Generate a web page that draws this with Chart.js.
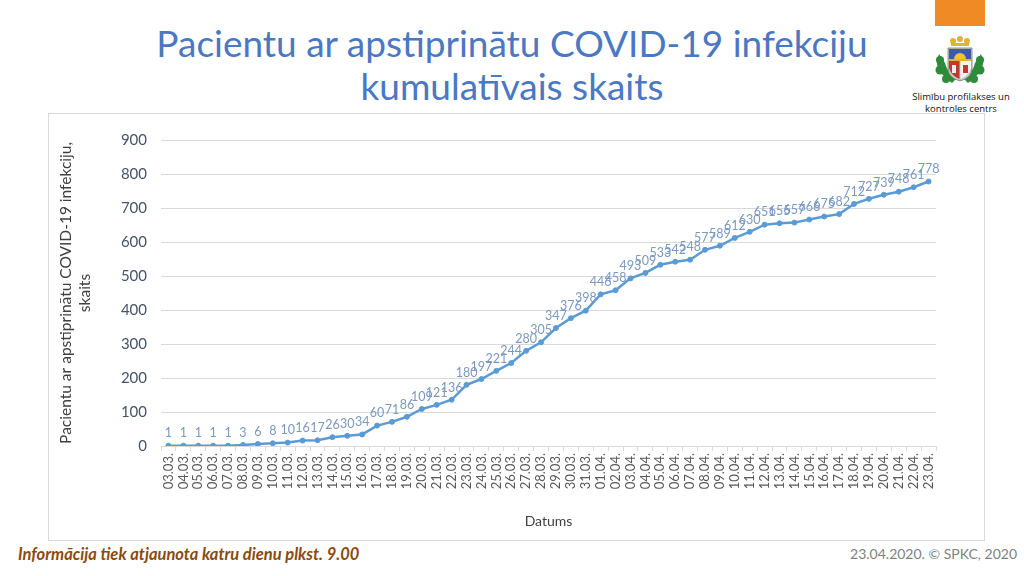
<!DOCTYPE html>
<html>
<head>
<meta charset="utf-8">
<script src="https://cdn.jsdelivr.net/npm/chart.js@4"></script>
<style>
  body { margin: 0; width: 1024px; height: 576px; background: #fff; overflow: hidden; font-family: Lato, "Open Sans", sans-serif; position: relative; }
  .title { position: absolute; left: 0; top: 21px; width: 1024px; text-align: center; color: #4a78c2; font-size: 37px; line-height: 43px; }
  .box { position: absolute; left: 48px; top: 113px; width: 935px; height: 426px; border: 1px solid #d9d9d9; }
  .box canvas { position: absolute; left: 0; top: 0; }
  .orange { position: absolute; left: 935px; top: 0; width: 50px; height: 26px; background: #f08a24; }
  .logo { position: absolute; left: 934px; top: 34px; }
  .org { position: absolute; left: 900px; top: 91px; width: 122px; text-align: center; font-size: 9.5px; line-height: 12px; color: #111; font-family: "Open Sans", sans-serif; }
  .note { position: absolute; left: 18px; top: 544px; font-size: 16.5px; font-weight: bold; font-style: italic; color: #8a4b0f; }
  .copy { position: absolute; right: 7px; top: 545px; font-size: 14px; color: #7f7f7f; }
</style>
</head>
<body>
<div class="title">Pacientu ar apstiprinātu COVID-19 infekciju<br>kumulatīvais skaits</div>
<div class="orange"></div>
<svg class="logo" width="52" height="54" viewBox="0 0 52 54">
  <!-- oak leaves -->
  <path d="M5 20 q-5 10 2 19 q5 6 11 10 l4 -4 q-9 -7 -11 -16 z" fill="#2e8b3a"/>
  <path d="M47 20 q5 10 -2 19 q-5 6 -11 10 l-4 -4 q9 -7 11 -16 z" fill="#2e8b3a"/>
  <circle cx="6" cy="26" r="4" fill="#2e8b3a"/>
  <circle cx="46" cy="26" r="4" fill="#2e8b3a"/>
  <circle cx="6" cy="36" r="4.5" fill="#2e8b3a"/>
  <circle cx="46" cy="36" r="4.5" fill="#2e8b3a"/>
  <circle cx="12" cy="45" r="4" fill="#2e8b3a"/>
  <circle cx="40" cy="45" r="4" fill="#2e8b3a"/>
  <!-- stars -->
  <circle cx="19" cy="7" r="3" fill="#e2b13c"/>
  <circle cx="26" cy="5" r="3" fill="#e2b13c"/>
  <circle cx="33" cy="7" r="3" fill="#e2b13c"/>
  <rect x="17" y="9" width="18" height="3" fill="#e2b13c"/>
  <!-- shield -->
  <path d="M14 14 h24 v20 q0 10 -12 13 q-12 -3 -12 -13 z" fill="#c8c8c8" stroke="#777" stroke-width="0.8"/>
  <path d="M15 15 h22 v10 h-22 z" fill="#3a5ba8"/>
  <circle cx="26" cy="25" r="6" fill="#f2c230"/>
  <rect x="15" y="25" width="22" height="2" fill="#e2b13c"/>
  <path d="M15 27 h10.5 v18 q-8 -3 -10.5 -11 z" fill="#c0392b"/>
  <path d="M26.5 27 h10.5 v7 q-2.5 8 -10.5 11 z" fill="#f4f4f4"/>
  <path d="M18 31 l4 0 l0 8 l-4 0 z" fill="#eee"/>
  <path d="M29 31 l5 0 l0 8 l-5 0 z" fill="#c0392b"/>
</svg>
<div class="org">Slimību profilakses un<br>kontroles centrs</div>
<div class="box"><canvas id="chart" width="935" height="426"></canvas></div>
<div class="note">Informācija tiek atjaunota katru dienu plkst. 9.00</div>
<div class="copy">23.04.2020. © SPKC, 2020</div>

<script>
// dates on the x axis
var dates = [
  "03.03.", "04.03.", "05.03.", "06.03.", "07.03.", "08.03.", "09.03.", "10.03.", "11.03.", "12.03.",
  "13.03.", "14.03.", "15.03.", "16.03.", "17.03.", "18.03.", "19.03.", "20.03.", "21.03.", "22.03.",
  "23.03.", "24.03.", "25.03.", "26.03.", "27.03.", "28.03.", "29.03.", "30.03.", "31.03.",
  "01.04.", "02.04.", "03.04.", "04.04.", "05.04.", "06.04.", "07.04.", "08.04.", "09.04.", "10.04.",
  "11.04.", "12.04.", "13.04.", "14.04.", "15.04.", "16.04.", "17.04.", "18.04.", "19.04.", "20.04.",
  "21.04.", "22.04.", "23.04."
];

// cumulative number of patients
var cases = [
  1, 1, 1, 1, 1, 3, 6, 8, 10, 16,
  17, 26, 30, 34, 60, 71, 86, 109, 121, 136,
  180, 197, 221, 244, 280, 305, 347, 376, 398,
  446, 458, 493, 509, 533, 542, 548, 577, 589, 612,
  630, 651, 655, 657, 666, 675, 682, 712, 727, 739,
  748, 761, 778
];

var yTicks = [0, 100, 200, 300, 400, 500, 600, 700, 800, 900];

// draw the value above each point
var pointLabels = {
  id: "pointLabels",
  afterDatasetsDraw: function (chart) {
    var ctx = chart.ctx;
    var meta = chart.getDatasetMeta(0);
    ctx.save();
    ctx.font = "12.5px Lato, sans-serif";
    ctx.fillStyle = "#7a98c0";
    ctx.textAlign = "center";
    ctx.textBaseline = "bottom";
    meta.data.forEach(function (pt, i) {
      ctx.fillText(chart.data.datasets[0].data[i], pt.x, pt.y - 6);
    });
    ctx.restore();
  }
};

var ctx = document.getElementById("chart").getContext("2d");

new Chart(ctx, {
  type: "line",
  data: {
    labels: dates,
    datasets: [
      {
        label: "Pacienti",
        data: cases,
        borderColor: "#5b9bd5",
        backgroundColor: "#5b9bd5",
        borderWidth: 2.5,
        pointRadius: 2.5,
        pointBorderWidth: 1,
        pointBackgroundColor: "#5b9bd5",
        tension: 0,
      },
    ],
  },
  options: {
    responsive: false,
    animation: false,
    layout: { padding: { left: 8, right: 48, top: 26, bottom: 0 } },
    plugins: {
      legend: { display: false },
      tooltip: { enabled: false },
    },
    scales: {
      x: {
        offset: true,
        grid: { drawOnChartArea: false, offset: true, color: "#d9d9d9", tickLength: 5 },
        border: { color: "#d9d9d9" },
        ticks: {
          autoSkip: false,
          minRotation: 90,
          maxRotation: 90,
          padding: 2,
          color: "#595959",
          font: { family: "Lato", size: 13 },
        },
        title: {
          display: true,
          text: "Datums",
          color: "#404040",
          font: { family: "Lato", size: 14 },
          padding: { top: 4, bottom: 10 },
        },
        afterFit: function (scale) { scale.height = 94; },
      },
      y: {
        min: 0,
        max: 900,
        afterBuildTicks: function (scale) {
          scale.ticks = yTicks.map(function (v) { return { value: v }; });
        },
        grid: { color: "#d9d9d9", drawTicks: false },
        border: { display: false },
        ticks: {
          padding: 14,
          color: "#44546a",
          font: { family: "Lato", size: 15 },
        },
        title: {
          display: true,
          text: ["Pacientu ar apstiprinātu COVID-19 infekciju,", "skaits"],
          color: "#404040",
          font: { family: "Lato", size: 15.5 },
          padding: { top: 0, bottom: 10 },
        },
        afterFit: function (scale) { scale.width = 104; },
      },
    },
  },
  plugins: [pointLabels],
});
</script>
</body>
</html>
